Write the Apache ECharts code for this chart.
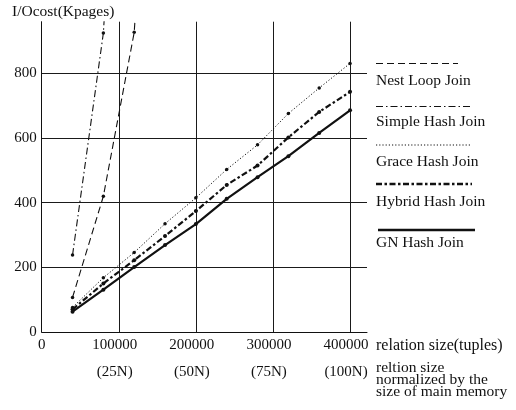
<!DOCTYPE html>
<html>
<head>
<meta charset="utf-8">
<script src="https://cdn.jsdelivr.net/npm/echarts@6/dist/echarts.min.js"></script>
<style>
  html, body { margin: 0; padding: 0; background: #fff; }
  #chart { width: 516px; height: 410px; }
</style>
</head>
<body>
<div id="chart"></div>
<script>
// Relation sizes (tuples) at which each join method was measured
const relationSizes = [40000, 80000, 120000, 160000, 200000, 240000, 280000, 320000, 360000, 400000];

// I/O cost in Kpages per join method (the first two climb past the top of the plot)
const nestLoopCost    = [107, 420, 927, 2400];
const simpleHashCost  = [238, 925, 2500];
const graceHashCost   = [76, 168, 246, 335, 415, 503, 579, 676, 755, 831];
const hybridHashCost  = [70, 150, 222, 297, 374, 455, 515, 602, 681, 743];
const gnHashCost      = [63, 131, 201, 269, 334, 412, 479, 544, 616, 686];

// Axis ticks and the memory-normalized size under each x tick
const xTicks = [0, 100000, 200000, 300000, 400000];
const xTickNormalized = ['', '(25N)', '(50N)', '(75N)', '(100N)'];
const yTicks = [0, 200, 400, 600, 800];

const seriesNames = ['Nest Loop Join', 'Simple Hash Join', 'Grace Hash Join', 'Hybrid Hash Join', 'GN Hash Join'];

const FONT = "'Liberation Serif', 'DejaVu Serif', serif";
const INK = '#111';

const pairs = (ys) => ys.map((y, i) => [relationSizes[i], y]);

// line look for each method: [lineDash, width]
const styles = [
  [[7, 4], 1.1],
  [[7, 3, 1.5, 3], 1.1],
  [[1.2, 2], 1],
  [[6, 2.5, 2.5, 2.5], 2.2],
  ['solid', 2.2]
];
const costs = [nestLoopCost, simpleHashCost, graceHashCost, hybridHashCost, gnHashCost];

const chart = echarts.init(document.getElementById('chart'), null, { renderer: 'canvas' });

const legendLines = [
  { y: 63.5, x1: 376, x2: 458, textY: 80.5 },
  { y: 106.5, x1: 376, x2: 472, textY: 121.5 },
  { y: 145, x1: 376, x2: 472, textY: 162 },
  { y: 184, x1: 376, x2: 472, textY: 201.5 },
  { y: 230, x1: 378, x2: 475, textY: 242.5 }
];

const legendGraphics = [];
legendLines.forEach((l, i) => {
  const dash = styles[i][0];
  legendGraphics.push({
    type: 'line',
    shape: { x1: l.x1, y1: l.y, x2: l.x2, y2: l.y },
    style: { stroke: INK, lineWidth: i >= 3 ? 2.4 : 1.1, lineDash: dash === 'solid' ? null : dash }
  });
  legendGraphics.push({
    type: 'text',
    x: 376, y: l.textY,
    style: { text: seriesNames[i], font: '15.5px ' + FONT, fill: INK, verticalAlign: 'middle', align: 'left' }
  });
});

chart.setOption({
  animation: false,
  backgroundColor: '#fff',
  grid: { left: 41.7, right: 149, top: 21.7, bottom: 78, containLabel: false },
  xAxis: {
    type: 'value',
    min: xTicks[0],
    max: 422000,
    interval: xTicks[1] - xTicks[0],
    axisLine: { show: true, onZero: false, lineStyle: { color: INK, width: 1 } },
    axisTick: { show: false },
    splitLine: { show: true, showMinLine: false, showMaxLine: false, lineStyle: { color: '#1a1a1a', width: 1 } },
    axisLabel: {
      showMaxLabel: false,
      margin: 0,
      lineHeight: 27,
      fontSize: 15,
      fontFamily: FONT,
      color: INK,
      padding: [0, 8, 0, 0],
      formatter: (v) => {
        const i = xTicks.indexOf(v);
        if (v === 0) return '{z|0}';
        return i > 0 ? v + '\n' + xTickNormalized[i] : '';
      },
      rich: { z: { padding: [0, 0, 0, 8], fontSize: 15, fontFamily: FONT, color: INK, lineHeight: 27 } }
    }
  },
  yAxis: {
    type: 'value',
    min: yTicks[0],
    max: 960,
    interval: yTicks[1] - yTicks[0],
    axisLine: { show: true, lineStyle: { color: INK, width: 1 } },
    axisTick: { show: false },
    splitLine: { show: true, showMinLine: false, showMaxLine: false, lineStyle: { color: '#1a1a1a', width: 1 } },
    axisLabel: { showMaxLabel: false, margin: 5, fontSize: 15, fontFamily: FONT, color: INK }
  },
  series: costs.map((c, i) => ({
    name: seriesNames[i],
    type: 'line',
    data: pairs(c),
    clip: true,
    symbol: 'circle',
    symbolSize: i >= 3 ? 4 : 3.5,
    showSymbol: true,
    itemStyle: { color: INK },
    lineStyle: { color: INK, width: styles[i][1], type: styles[i][0] },
    z: 3
  })),
  graphic: [
    {
      type: 'text', x: 12, y: 12,
      style: { text: 'I/Ocost(Kpages)', font: '15.5px ' + FONT, fill: INK, verticalAlign: 'middle' }
    },
    {
      type: 'text', x: 376, y: 346,
      style: { text: 'relation size(tuples)', font: '16px ' + FONT, fill: INK, verticalAlign: 'middle' }
    },
    {
      type: 'text', x: 376, y: 362,
      style: {
        text: 'reltion size\nnormalized by the\nsize of main memory',
        font: '15.5px ' + FONT, fill: INK, verticalAlign: 'top', lineHeight: 12
      }
    }
  ].concat(legendGraphics)
});
</script>
</body>
</html>
